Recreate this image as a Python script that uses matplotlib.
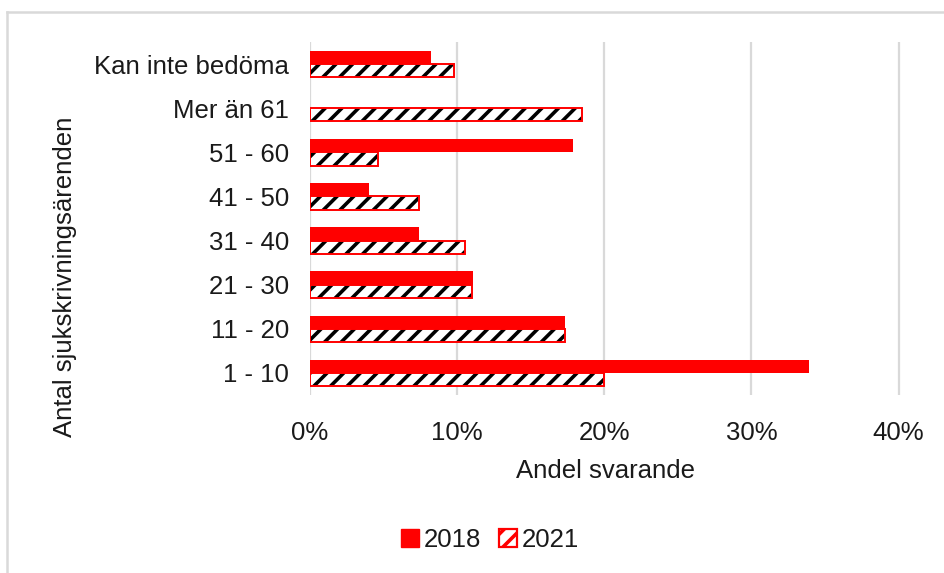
import matplotlib.pyplot as plt
import matplotlib.patches as mpatches
from matplotlib.lines import Line2D
from matplotlib.ticker import PercentFormatter
import numpy as np

plt.rcParams['font.family'] = ['Liberation Sans', 'DejaVu Sans']
plt.rcParams['hatch.linewidth'] = 2.6

# data (bottom to top)
categories = ['1 - 10', '11 - 20', '21 - 30', '31 - 40', '41 - 50', '51 - 60', 'Mer än 61', 'Kan inte bedöma']
values_2018 = [33.9, 17.3, 11.1, 7.4, 4.0, 17.9, 0.0, 8.2]
values_2021 = [20.0, 17.3, 11.0, 10.5, 7.4, 4.6, 18.5, 9.8]
xticks = [0, 10, 20, 30, 40]

red = '#ff0000'
fs = 18.5
fig = plt.figure(figsize=(9.44, 5.73), dpi=100)
ax = fig.add_axes([0.3284, 0.3107, 0.6282, 0.616])

y = np.arange(len(categories))
h = 0.3
ax.barh(y + h / 2, values_2018, height=h, color=red, linewidth=0, zorder=3)
# hatched bars: black hatch on white, red outline drawn on top
ax.barh(y - h / 2, values_2021, height=h, color='white', edgecolor='black', linewidth=0,
        hatch='//', zorder=3)
ax.barh(y - h / 2, values_2021, height=h, facecolor='none', edgecolor=red, linewidth=1.4, zorder=4)

ax.set_xlim(0, 40.3)
ax.set_ylim(-0.5, len(categories) - 0.5)
ax.set_xticks(xticks)
ax.xaxis.set_major_formatter(PercentFormatter(decimals=0))
ax.set_yticks(y)
ax.set_yticklabels(categories)
ax.tick_params(axis='both', length=0, labelsize=fs, colors='#1a1a1a')
ax.tick_params(axis='y', pad=15)
ax.tick_params(axis='x', pad=19)
ax.grid(axis='x', color='#d9d9d9', linewidth=1.6, zorder=0)
ax.grid(axis='y', visible=False)
for s in ax.spines.values():
    s.set_visible(False)

fig.text(606 / 944, 1 - 471 / 573, 'Andel svarande', ha='center', va='center',
         fontsize=fs, color='#1a1a1a')
fig.text(65 / 944, 1 - 277 / 573, 'Antal sjukskrivningsärenden', rotation=90,
         ha='center', va='center', fontsize=fs, color='#1a1a1a')

handles = [mpatches.Patch(facecolor=red, edgecolor=red, label='2018'),
           mpatches.Patch(facecolor='white', edgecolor=red, hatch='//', linewidth=1.6, label='2021')]
leg = fig.legend(handles=handles, loc='center', bbox_to_anchor=(490 / 944, 1 - 540 / 573), ncol=2,
                 frameon=False, fontsize=fs, handlelength=0.7, handleheight=0.7,
                 handletextpad=0.2, columnspacing=0.7)
for t in leg.get_texts():
    t.set_color('#1a1a1a')

# outer frame lines (left and top)
fig.add_artist(Line2D([6.5 / 944, 6.5 / 944], [0, 1 - 11.5 / 573], color='#d9d9d9', linewidth=1.8))
fig.add_artist(Line2D([6.5 / 944, 1], [1 - 11.5 / 573, 1 - 11.5 / 573], color='#d9d9d9', linewidth=1.8))

fig.savefig('out.png', dpi=100)
